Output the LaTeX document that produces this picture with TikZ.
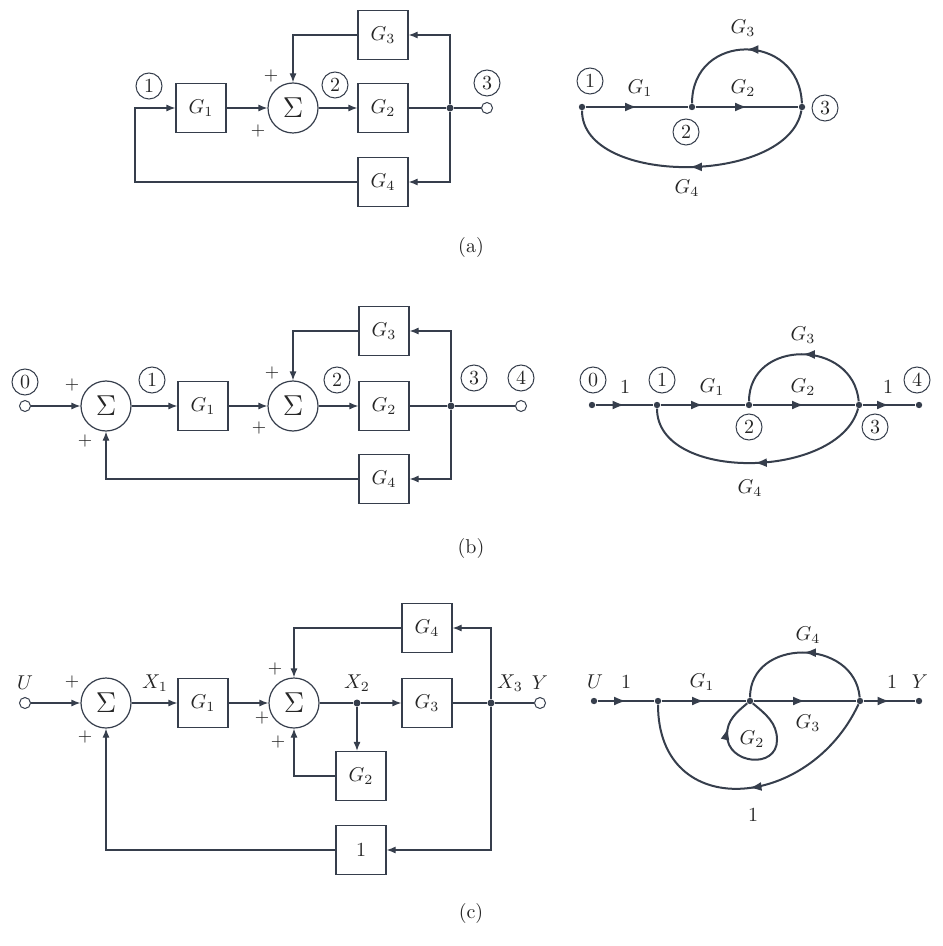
\documentclass[tikz,border=0pt]{standalone}
\usepackage{amsmath,amssymb}
\usepackage{tikz}
\usetikzlibrary{arrows.meta,positioning,calc,decorations.markings}
\definecolor{Ink}{HTML}{363E4C}
\definecolor{Txt}{HTML}{262626}

\begin{document}
\begin{tikzpicture}[x=0.5pt,y=0.5pt,
  blk/.style={draw=Ink,line width=0.6pt,minimum width=25pt,minimum height=24.5pt,
    inner sep=0pt,text=Txt},
  sumnode/.style={circle,draw=Ink,line width=0.6pt,minimum size=25pt,inner sep=0pt,
    font=\Large,text=Txt},
  tag/.style={circle,draw=Ink,line width=0.5pt,minimum size=13pt,inner sep=0pt,text=Txt},
  term/.style={circle,draw=Ink,fill=white,line width=0.5pt,minimum size=5.5pt,inner sep=0pt},
  jdot/.style={circle,fill=Ink,minimum size=3.5pt,inner sep=0pt},
  sdot/.style={circle,fill=Ink,minimum size=3.2pt,inner sep=0pt},
  lbl/.style={text=Txt,inner sep=1pt},
  pm/.style={text=Txt,font=\small,inner sep=0pt},
  wire/.style={draw=Ink,line width=0.6pt},
  sig/.style={wire,-{Latex[length=4.5pt,width=3.5pt]}},
  branch/.style={draw=Ink,line width=1pt,postaction={decorate},
    decoration={markings,mark=at position #1 with {\arrow{Latex[length=6pt,width=4.5pt]}}}},
  branch/.default=0.5]
  \fill[white] (0,0) rectangle (942,-946);
  \useasboundingbox (0,0) rectangle (942,-946);

  % (a) block diagram
  \node[blk] (aG1) at (201,-108) {$G_1$};
  \node[sumnode] (aS) at (293,-108) {$\Sigma$};
  \node[blk] (aG2) at (383,-108) {$G_2$};
  \node[blk] (aG3) at (383,-35) {$G_3$};
  \node[blk] (aG4) at (383,-182) {$G_4$};
  \node[jdot] (aJ) at (450,-108) {};
  \node[term] (aOut) at (487,-108) {};
  \coordinate (aC) at (135,-108);
  \node[tag] (aT1) at (149,-86) {1};
  \node[tag] (aT2) at (335,-85) {2};
  \node[tag] (aT3) at (487,-83) {3};
  \node[pm] (aP1) at (271,-76) {$+$};
  \node[pm] (aP2) at (258,-131) {$+$};
  \draw[sig] (aG1) -- (aS);
  \draw[sig] (aS) -- (aG2);
  \draw[wire] (aG2) -- (aJ) -- (aOut);
  \draw[sig] (aJ) |- (aG3);
  \draw[sig] (aG3) -| (aS);
  \draw[sig] (aJ) |- (aG4);
  \draw[sig] (aG4) -| (aC) -- (aG1);
  \node[lbl] (capA) at (471,-248) {(a)};

  % (a) signal flow graph
  \node[sdot] (aN1) at (582,-107) {};
  \node[sdot] (aN2) at (692,-107) {};
  \node[sdot] (aN3) at (802,-107) {};
  \node[tag] (aQ1) at (590,-81) {1};
  \node[tag] (aQ2) at (686,-132) {2};
  \node[tag] (aQ3) at (825,-108) {3};
  \draw[branch] (aN1) -- (aN2);
  \draw[branch] (aN2) -- (aN3);
  \draw[branch] (aN3) to[out=92,in=90,distance=36pt] (aN2);
  \draw[branch] (aN3) to[out=-100,in=-90,distance=38pt] (aN1);
  \node[lbl] (aL1) at (640,-88) {$G_1$};
  \node[lbl] (aL2) at (743,-88) {$G_2$};
  \node[lbl] (aL3) at (743,-28) {$G_3$};
  \node[lbl] (aL4) at (687,-188) {$G_4$};

  % (b) block diagram
  \node[term] (bIn) at (25,-406) {};
  \node[tag] (bT0) at (25,-382) {0};
  \node[sumnode] (bS1) at (106,-406) {$\Sigma$};
  \node[blk] (bG1) at (203,-406) {$G_1$};
  \node[sumnode] (bS2) at (293,-406) {$\Sigma$};
  \node[blk] (bG2) at (384,-406) {$G_2$};
  \node[blk] (bG3) at (384,-331) {$G_3$};
  \node[blk] (bG4) at (384,-479) {$G_4$};
  \node[jdot] (bJ) at (451,-406) {};
  \node[term] (bOut) at (521,-406) {};
  \node[tag] (bT1) at (152,-380) {1};
  \node[tag] (bT2) at (337,-380) {2};
  \node[tag] (bT3) at (474,-378) {3};
  \node[tag] (bT4) at (521,-378) {4};
  \node[pm] (bP1) at (72,-385) {$+$};
  \node[pm] (bP2) at (85,-441) {$+$};
  \node[pm] (bP3) at (272,-373) {$+$};
  \node[pm] (bP4) at (259,-428) {$+$};
  \draw[sig] (bIn) -- (bS1);
  \draw[sig] (bS1) -- (bG1);
  \draw[sig] (bG1) -- (bS2);
  \draw[sig] (bS2) -- (bG2);
  \draw[wire] (bG2) -- (bJ) -- (bOut);
  \draw[sig] (bJ) |- (bG3);
  \draw[sig] (bG3) -| (bS2);
  \draw[sig] (bJ) |- (bG4);
  \draw[sig] (bG4) -| (bS1);
  \node[lbl] (capB) at (471,-548) {(b)};

  % (b) signal flow graph
  \node[sdot] (bN0) at (592,-405) {};
  \node[sdot] (bN1) at (657,-405) {};
  \node[sdot] (bN2) at (749,-405) {};
  \node[sdot] (bN3) at (859,-405) {};
  \node[sdot] (bN4) at (919,-405) {};
  \node[tag] (bQ0) at (593,-380) {0};
  \node[tag] (bQ1) at (662,-380) {1};
  \node[tag] (bQ2) at (749,-427) {2};
  \node[tag] (bQ3) at (875,-427) {3};
  \node[tag] (bQ4) at (917,-380) {4};
  \draw[branch] (bN0) -- (bN1);
  \draw[branch] (bN1) -- (bN2);
  \draw[branch] (bN2) -- (bN3);
  \draw[branch] (bN3) -- (bN4);
  \draw[branch] (bN3) to[out=95,in=90,distance=31.5pt] (bN2);
  \draw[branch] (bN3) to[out=-105,in=-90,distance=37pt] (bN1);
  \node[lbl] (bL0) at (625,-387) {1};
  \node[lbl] (bL1) at (712,-387) {$G_1$};
  \node[lbl] (bL2) at (803,-387) {$G_2$};
  \node[lbl] (bL5) at (888,-387) {1};
  \node[lbl] (bL3) at (803,-335) {$G_3$};
  \node[lbl] (bL4) at (750,-488) {$G_4$};

  % (c) block diagram
  \node[term] (cIn) at (25,-703) {};
  \node[lbl] (cU) at (25,-683) {$U$};
  \node[sumnode] (cS1) at (106,-703) {$\Sigma$};
  \node[lbl] (cX1) at (155,-683) {$X_1$};
  \node[blk] (cG1) at (203,-703) {$G_1$};
  \node[sumnode] (cS2) at (294,-703) {$\Sigma$};
  \node[jdot] (cJ2) at (357,-703) {};
  \node[lbl] (cX2) at (357,-683) {$X_2$};
  \node[blk] (cG3) at (427,-703) {$G_3$};
  \node[blk] (cG4) at (427,-628) {$G_4$};
  \node[blk] (cG2) at (361,-776) {$G_2$};
  \node[blk] (cOne) at (361,-850) {1};
  \node[jdot] (cJ3) at (491,-703) {};
  \node[lbl] (cX3) at (510,-683) {$X_3$};
  \node[lbl] (cY) at (540,-683) {$Y$};
  \node[term] (cOut) at (540,-703) {};
  \node[pm] (cP1) at (72,-682) {$+$};
  \node[pm] (cP2) at (85,-737) {$+$};
  \node[pm] (cP3) at (275,-669) {$+$};
  \node[pm] (cP4) at (262,-718) {$+$};
  \node[pm] (cP5) at (278,-742) {$+$};
  \draw[sig] (cIn) -- (cS1);
  \draw[sig] (cS1) -- (cG1);
  \draw[sig] (cG1) -- (cS2);
  \draw[wire] (cS2) -- (cJ2);
  \draw[sig] (cJ2) -- (cG3);
  \draw[sig] (cJ2) -- (cJ2 |- cG2.north);
  \draw[sig] (cG2) -| (cS2);
  \draw[wire] (cG3) -- (cJ3) -- (cOut);
  \draw[sig] (cJ3) |- (cG4);
  \draw[sig] (cG4) -| (cS2);
  \draw[sig] (cJ3) |- (cOne);
  \draw[sig] (cOne) -| (cS1);
  \node[lbl] (capC) at (471,-913) {(c)};

  % (c) signal flow graph
  \node[sdot] (cN0) at (594,-701) {};
  \node[sdot] (cNa) at (658,-701) {};
  \node[sdot] (cNb) at (750,-701) {};
  \node[sdot] (cNc) at (860,-701) {};
  \node[sdot] (cNy) at (919,-701) {};
  \coordinate (cLoopR) at (777,-740);
  \coordinate (cLoopL) at (727,-735);
  \draw[branch=0.8] (cNb) to[out=-40,in=90] (cLoopR)
    to[out=-90,in=-90,looseness=1.5] (cLoopL)
    to[out=90,in=-140] (cNb);
  \draw[branch] (cN0) -- (cNa);
  \draw[branch] (cNa) -- (cNb);
  \draw[branch] (cNb) -- (cNc);
  \draw[branch] (cNc) -- (cNy);
  \draw[branch] (cNc) to[out=95,in=90,distance=30pt] (cNb);
  \draw[branch] (cNc) to[out=-115,in=-90,distance=59pt] (cNa);
  \node[lbl] (cLU) at (595,-682) {$U$};
  \node[lbl] (cL0) at (626,-682) {1};
  \node[lbl] (cL1) at (702,-682) {$G_1$};
  \node[lbl] (cL3) at (808,-723) {$G_3$};
  \node[lbl] (cL4) at (808,-635) {$G_4$};
  \node[lbl] (cL2) at (752,-739) {$G_2$};
  \node[lbl] (cL5) at (892,-682) {1};
  \node[lbl] (cLY) at (920,-682) {$Y$};
  \node[lbl] (cL6) at (753,-815) {1};
\end{tikzpicture}
\end{document}
